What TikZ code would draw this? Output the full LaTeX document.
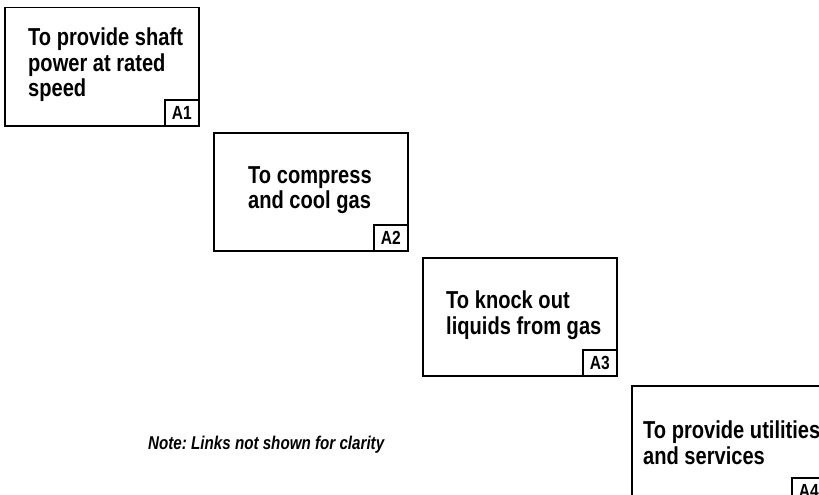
\documentclass[tikz,border=0pt]{standalone}
\usepackage{fontspec}
\setmainfont{Liberation Sans}[FakeStretch=0.82]
\frenchspacing
\begin{document}
\begin{tikzpicture}[x=1pt,y=-1pt,
  fnbox/.style={draw,line width=1.5pt,minimum width=194pt,minimum height=118pt,
    anchor=north west,inner sep=0pt},
  tagbox/.style={draw,line width=1.5pt,minimum width=34pt,minimum height=26pt,
    anchor=south east,inner sep=0pt,font=\fontsize{19}{20}\selectfont\bfseries},
  fntext/.style={anchor=north west,inner sep=0pt,align=left,
    font=\fontsize{24.5}{25.5}\selectfont\bfseries},
  notetext/.style={anchor=base west,inner sep=0pt,
    font=\fontsize{18.5}{20}\selectfont\bfseries\itshape}]
\useasboundingbox (0,0) rectangle (819,495);
\clip (0,0) rectangle (819,495);

% function boxes, stepping down to the right
\node[fnbox] (b1) at (4,7) {};
\node[fnbox] (b2) at (213,132) {};
\node[fnbox] (b3) at (422,257) {};
\node[fnbox] (b4) at (631,385) {};

% reference tags in the lower right corners
\node[tagbox] (t1) at (b1.south east) {A1};
\node[tagbox] (t2) at (b2.south east) {A2};
\node[tagbox] (t3) at (b3.south east) {A3};
\node[tagbox] (t4) at (b4.south east) {A4};

% function statements
\node[fntext] (f1) at (28,28) {To provide shaft\\power at rated\\speed};
\node[fntext] (f2) at (248,166) {To compress\\and cool gas};
\node[fntext] (f3) at (446,291) {To knock out\\liquids from gas};
\node[fntext] (f4) at (643,421) {To provide utilities\\and services};

\node[notetext] (note) at (148,449) {Note: Links not shown for clarity};
\end{tikzpicture}
\end{document}
